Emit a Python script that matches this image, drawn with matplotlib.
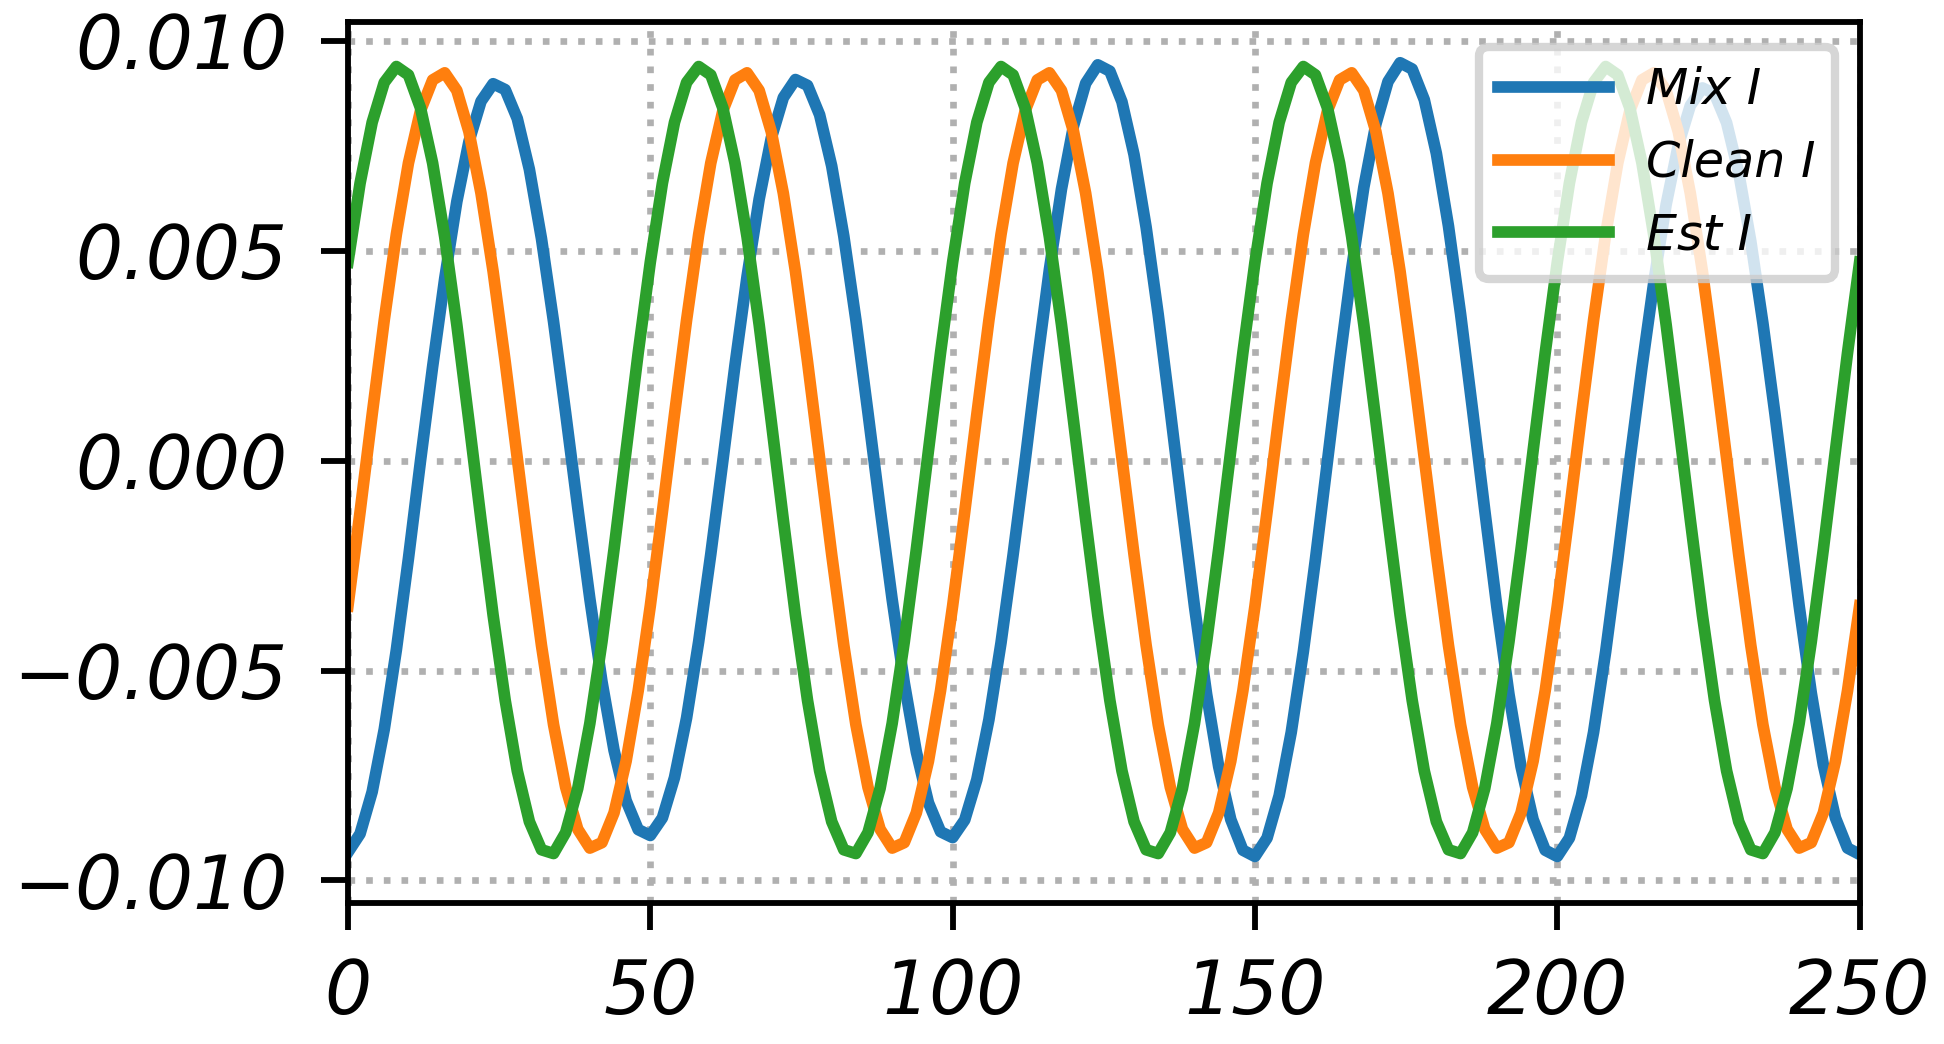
import numpy as np
import matplotlib
matplotlib.use("Agg")
import matplotlib.pyplot as plt  # noqa: E402
from matplotlib.ticker import FuncFormatter  # noqa: E402

# sample index (every 2nd sample, 0..250)
x = np.arange(0, 251, 2)

# values, in units of 1e-3
UNIT = 1e-3

mix_i = [
    -9.33, -8.89, -7.89, -6.40, -4.51, -2.33, 0.00,
    2.24, 4.34, 6.17, 7.60, 8.56, 8.98, 8.84, 8.15, 6.94, 5.29, 3.31, 1.13,
    -1.12, -3.29, -5.26, -6.90, -8.10, -8.79,
    -8.93, -8.51, -7.55, -6.13, -4.31, -2.23, 0.00,
    2.27, 4.39, 6.23, 7.68, 8.65, 9.08, 8.94, 8.24, 7.02, 5.35, 3.35, 1.14,
    -1.13, -3.31, -5.29, -6.94, -8.15, -8.84,
    -8.98, -8.56, -7.60, -6.17, -4.34, -2.24, 0.00,
    2.35, 4.55, 6.47, 7.98, 8.99, 9.43, 9.28, 8.55, 7.29, 5.56, 3.48, 1.18,
    -1.18, -3.48, -5.56, -7.29, -8.55, -9.28,
    -9.43, -8.99, -7.98, -6.47, -4.55, -2.35, 0.00,
    2.37, 4.58, 6.51, 8.02, 9.03, 9.48, 9.33, 8.60, 7.32, 5.59, 3.50, 1.19,
    -1.18, -3.48, -5.56, -7.29, -8.55, -9.28,
    -9.43, -8.99, -7.98, -6.47, -4.55, -2.35, 0.00,
    2.22, 4.29, 6.10, 7.51, 8.46, 8.88, 8.74, 8.05, 6.86, 5.23, 3.28, 1.11,
    -1.18, -3.46, -5.53, -7.25, -8.51, -9.23,
    -9.38,
]

clean_i = [
    -3.46, -1.22, 1.10, 3.35, 5.39, 7.09, 8.34, 9.07, 9.24, 8.82, 7.84, 6.37, 4.51,
    2.36, 0.06, -2.24, -4.40, -6.29, -7.78, -8.78, -9.23, -9.10, -8.39, -7.16, -5.48,
    -3.46, -1.22, 1.10, 3.35, 5.39, 7.09, 8.34, 9.07, 9.24, 8.82, 7.84, 6.37, 4.51,
    2.36, 0.06, -2.24, -4.40, -6.29, -7.78, -8.78, -9.23, -9.10, -8.39, -7.16, -5.48,
    -3.46, -1.22, 1.10, 3.35, 5.39, 7.09, 8.34, 9.07, 9.24, 8.82, 7.84, 6.37, 4.51,
    2.36, 0.06, -2.24, -4.40, -6.29, -7.78, -8.78, -9.23, -9.10, -8.39, -7.16, -5.48,
    -3.46, -1.22, 1.10, 3.35, 5.39, 7.09, 8.34, 9.07, 9.24, 8.82, 7.84, 6.37, 4.51,
    2.36, 0.06, -2.24, -4.40, -6.29, -7.78, -8.78, -9.23, -9.10, -8.39, -7.16, -5.48,
    -3.46, -1.22, 1.10, 3.35, 5.39, 7.09, 8.34, 9.07, 9.24, 8.82, 7.84, 6.37, 4.51,
    2.36, 0.06, -2.24, -4.40, -6.29, -7.78, -8.78, -9.23, -9.10, -8.39, -7.16, -5.48,
    -3.46,
]

est_i = [
    4.73, 6.61, 8.06, 9.01, 9.39, 9.19, 8.40, 7.09, 5.33, 3.24, 0.94, -1.41, -3.68,
    -5.71, -7.39, -8.60, -9.27, -9.36, -8.86, -7.81, -6.26, -4.32, -2.11, 0.24, 2.57,
    4.73, 6.61, 8.06, 9.01, 9.39, 9.19, 8.40, 7.09, 5.33, 3.24, 0.94, -1.41, -3.68,
    -5.71, -7.39, -8.60, -9.27, -9.36, -8.86, -7.81, -6.26, -4.32, -2.11, 0.24, 2.57,
    4.73, 6.61, 8.06, 9.01, 9.39, 9.19, 8.40, 7.09, 5.33, 3.24, 0.94, -1.41, -3.68,
    -5.71, -7.39, -8.60, -9.27, -9.36, -8.86, -7.81, -6.26, -4.32, -2.11, 0.24, 2.57,
    4.73, 6.61, 8.06, 9.01, 9.39, 9.19, 8.40, 7.09, 5.33, 3.24, 0.94, -1.41, -3.68,
    -5.71, -7.39, -8.60, -9.27, -9.36, -8.86, -7.81, -6.26, -4.32, -2.11, 0.24, 2.57,
    4.73, 6.61, 8.06, 9.01, 9.39, 9.19, 8.40, 7.09, 5.33, 3.24, 0.94, -1.41, -3.68,
    -5.71, -7.39, -8.60, -9.27, -9.36, -8.86, -7.81, -6.26, -4.32, -2.11, 0.24, 2.57,
    4.73,
]

labels = ["Mix I", "Clean I", "Est I"]
xticks = [0, 50, 100, 150, 200, 250]
yticks = [-0.010, -0.005, 0.000, 0.005, 0.010]

plt.rcParams["font.style"] = "italic"
plt.rcParams["font.size"] = 17.8

fig = plt.figure(figsize=(6.48, 3.48), dpi=300)
ax = fig.add_axes([0.179, 0.135, 0.7776, 0.8439])

for vals, lab in zip([mix_i, clean_i, est_i], labels):
    ax.plot(x, np.array(vals) * UNIT, lw=2.8, label=lab)

ax.set_xlim(0, 250)
ax.set_ylim(-0.01054, 0.01045)
ax.set_xticks(xticks)
ax.set_yticks(yticks)
ax.yaxis.set_major_formatter(
    FuncFormatter(lambda v, p: ("%.3f" % v).replace("-", "\u2212")))
ax.grid(True, ls=":", color="#b0b0b0", lw=1.6)
for s in ax.spines.values():
    s.set_linewidth(1.4)
ax.tick_params(length=6.5, width=1.4, labelsize=17.8)
ax.tick_params(axis="y", pad=8)
ax.tick_params(axis="x", pad=6.5)

leg = ax.legend(loc="upper right", fontsize=11.8, handlelength=2.25,
                handletextpad=0.75)
leg.get_frame().set_linewidth(2.0)

fig.savefig("out.png", dpi=300)
